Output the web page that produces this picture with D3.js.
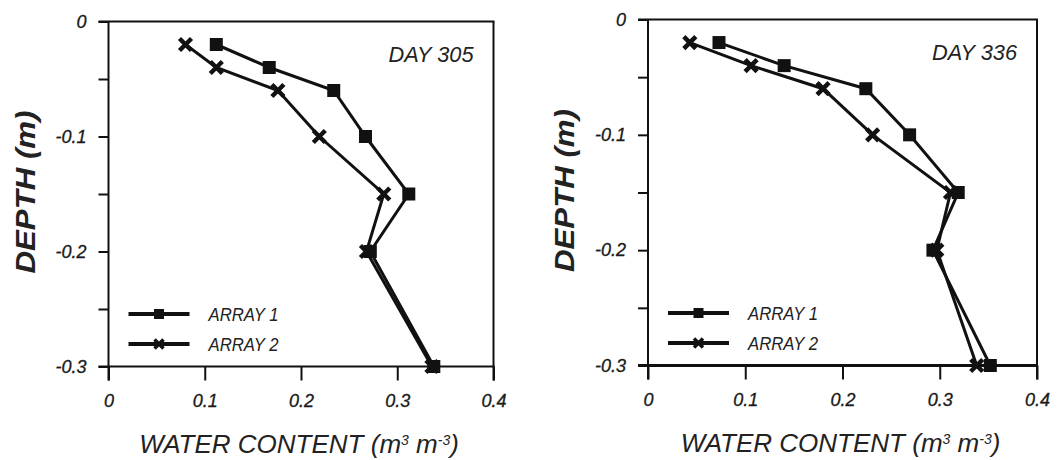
<!DOCTYPE html>
<html>
<head>
<meta charset="utf-8">
<script src="https://cdn.jsdelivr.net/npm/d3@7"></script>
<style>
  html, body { margin: 0; padding: 0; background: #fff; }
  svg { display: block; }
  text { font-family: "Liberation Sans", Arial, sans-serif; font-style: italic; fill: #222; }
  .tick text { font-size: 18px; fill: #1a1a1a; }
</style>
</head>
<body>
<svg id="chart" width="1061" height="460"></svg>
<script>
// Soil water content profiles for two sensor arrays on two days
const depths = [-0.02, -0.04, -0.06, -0.1, -0.15, -0.2, -0.3];
const day305Array1 = [0.112, 0.167, 0.234, 0.267, 0.312, 0.272, 0.338];
const day305Array2 = [0.080, 0.112, 0.176, 0.219, 0.286, 0.268, 0.336];
const day336Array1 = [0.073, 0.140, 0.224, 0.269, 0.319, 0.293, 0.352];
const day336Array2 = [0.043, 0.106, 0.180, 0.231, 0.311, 0.297, 0.338];
const panelTitles = ["DAY 305", "DAY 336"];
const seriesNames = ["ARRAY 1", "ARRAY 2"];
const xTicks = [0, 0.1, 0.2, 0.3, 0.4];
const xTickLabels = ["0", "0.1", "0.2", "0.3", "0.4"];
const yTicks = [0, -0.05, -0.1, -0.15, -0.2, -0.25, -0.3];
const yTickLabels = ["0", "", "-0.1", "", "-0.2", "", "-0.3"];

const svg = d3.select("#chart");

const panels = [
  { title: panelTitles[0], a1: day305Array1, a2: day305Array2,
    x0: 108.5, x1: 493.5, y0: 21.5, y1: 366.5, ytx: 25, bottomW: 2 },
  { title: panelTitles[1], a1: day336Array1, a2: day336Array2,
    x0: 648, x1: 1037, y0: 19.5, y1: 365.5, ytx: 564, bottomW: 3 }
];

function crossPath(cx, cy, r) {
  return `M${cx - r},${cy - r}L${cx + r},${cy + r}M${cx - r},${cy + r}L${cx + r},${cy - r}`;
}

panels.forEach(p => {
  const x = d3.scaleLinear().domain([0, 0.4]).range([p.x0, p.x1]);
  const y = d3.scaleLinear().domain([0, -0.3]).range([p.y0, p.y1]);
  const g = svg.append("g");

  // Axes
  const yAxis = d3.axisLeft(y).tickValues(yTicks).tickSize(10).tickPadding(12)
    .tickFormat((d, i) => yTickLabels[i]);
  const xAxis = d3.axisBottom(x).tickValues(xTicks).tickSize(14).tickPadding(14)
    .tickFormat((d, i) => xTickLabels[i]);

  const ya = g.append("g").attr("transform", `translate(${p.x0},0)`).call(yAxis);
  const xa = g.append("g").attr("transform", `translate(0,${p.y1})`).call(xAxis);
  [ya, xa].forEach(a => {
    a.attr("font-size", 18).attr("font-family", null);
    a.select(".domain").remove();
    a.selectAll("line").attr("stroke", "#111").attr("stroke-width", 2);
    a.selectAll("text").attr("stroke", "#1a1a1a").attr("stroke-width", 0.3);
  });

  // Frame
  g.append("line").attr("x1", p.x0).attr("x2", p.x0).attr("y1", p.y0).attr("y2", p.y1 + 14)
    .attr("stroke", "#111").attr("stroke-width", 2);
  g.append("line").attr("x1", p.x0 - 10).attr("x2", p.x1 + 1).attr("y1", p.y0).attr("y2", p.y0)
    .attr("stroke", "#111").attr("stroke-width", 2);
  g.append("line").attr("x1", p.x1).attr("x2", p.x1).attr("y1", p.y0).attr("y2", p.y1 + 14)
    .attr("stroke", "#111").attr("stroke-width", 2);
  g.append("line").attr("x1", p.x0 - 10).attr("x2", p.x1 + 1).attr("y1", p.y1).attr("y2", p.y1)
    .attr("stroke", "#111").attr("stroke-width", p.bottomW);

  // Profiles
  const line = d3.line().x(d => x(d[0])).y(d => y(d[1]));
  const s1 = p.a1.map((v, i) => [v, depths[i]]);
  const s2 = p.a2.map((v, i) => [v, depths[i]]);

  g.append("path").datum(s2).attr("d", line).attr("fill", "none")
    .attr("stroke", "#111").attr("stroke-width", 3);
  g.append("path").datum(s1).attr("d", line).attr("fill", "none")
    .attr("stroke", "#111").attr("stroke-width", 3);

  g.selectAll(".m2").data(s2).enter().append("path")
    .attr("d", d => crossPath(x(d[0]), y(d[1]), 6))
    .attr("stroke", "#111").attr("stroke-width", 4.5).attr("fill", "none");
  g.selectAll(".m1").data(s1).enter().append("rect")
    .attr("x", d => x(d[0]) - 6.5).attr("y", d => y(d[1]) - 6.5)
    .attr("width", 13).attr("height", 13).attr("fill", "#111");

  // Day label
  g.append("text").attr("x", p.x1 - 20).attr("y", p.y0 + 40)
    .attr("text-anchor", "end").attr("font-size", 22)
    .attr("textLength", 85).attr("lengthAdjust", "spacingAndGlyphs")
    .text(p.title);

  // Legend
  const lx0 = p.x0 + 20, lx1 = p.x0 + 81, ltx = p.x0 + 100;
  const ly1 = p.y1 - 52.5, ly2 = p.y1 - 22.5;
  g.append("line").attr("x1", lx0).attr("x2", lx1).attr("y1", ly1).attr("y2", ly1)
    .attr("stroke", "#111").attr("stroke-width", 4);
  g.append("rect").attr("x", (lx0 + lx1) / 2 - 5).attr("y", ly1 - 5)
    .attr("width", 10).attr("height", 10).attr("fill", "#111");
  g.append("line").attr("x1", lx0).attr("x2", lx1).attr("y1", ly2).attr("y2", ly2)
    .attr("stroke", "#111").attr("stroke-width", 4);
  g.append("path").attr("d", crossPath((lx0 + lx1) / 2, ly2, 4.5))
    .attr("stroke", "#111").attr("stroke-width", 3.5);
  [ly1, ly2].forEach((ly, i) => {
    g.append("text").attr("x", ltx).attr("y", ly + 6.5).attr("font-size", 18)
      .attr("textLength", 70).attr("lengthAdjust", "spacingAndGlyphs")
      .attr("fill", "#333").text(seriesNames[i]);
  });

  // Axis titles
  const xt = g.append("text").attr("x", (p.x0 + p.x1) / 2 - 2).attr("y", p.y1 + 86)
    .attr("text-anchor", "middle").attr("font-size", 26);
  xt.append("tspan").text("WATER CONTENT (m");
  xt.append("tspan").attr("font-size", 14).attr("baseline-shift", "60%").text("3");
  xt.append("tspan").text(" m");
  xt.append("tspan").attr("font-size", 14).attr("baseline-shift", "60%").text("-3");
  xt.append("tspan").text(")");

  g.append("text")
    .attr("transform", `translate(${p.ytx},${(p.y0 + p.y1) / 2 - 2}) rotate(-90)`)
    .attr("text-anchor", "middle").attr("dominant-baseline", "central")
    .attr("font-size", 28).attr("font-weight", "bold").attr("fill", "#111")
    .attr("textLength", 163).attr("lengthAdjust", "spacingAndGlyphs")
    .text("DEPTH (m)");
});
</script>
</body>
</html>
